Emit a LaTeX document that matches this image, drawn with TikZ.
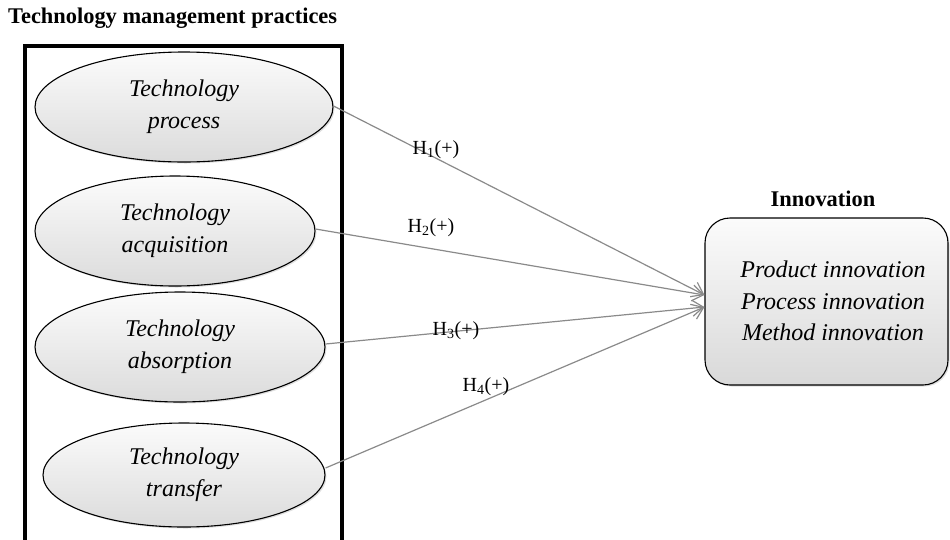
\documentclass[tikz,border=0pt]{standalone}
\usepackage{fontspec}
\setmainfont{Liberation Serif}
\usetikzlibrary{arrows.meta,shadows,shapes.geometric}
\definecolor{arrowgray}{HTML}{8A8A8A}
\tikzset{
  ell/.style={ellipse, draw=black, line width=1.1pt, inner sep=0pt, align=center,
    top color=gray!3, bottom color=gray!28,
    drop shadow={opacity=0.25, shadow xshift=1.5pt, shadow yshift=-1.5pt},
    font=\fontsize{24}{32}\selectfont\itshape},
  hyp/.style={draw=arrowgray, line width=1.2pt, -{Straight Barb[length=11pt,width=16pt,line width=1.2pt]}},
  hlab/.style={inner sep=0pt, font=\fontsize{20}{24}\selectfont},
  heading/.style={inner sep=0pt, font=\fontsize{22.4}{26}\selectfont\bfseries}
}
\begin{document}
\begin{tikzpicture}[x=1pt,y=-1pt]
\useasboundingbox (0,0) rectangle (950,539);
\begin{scope}
\clip (0,0) rectangle (950,539);
\node[heading, anchor=west] (title) at (8,18) {Technology management practices};
\node[draw=black, line width=3.8pt, minimum width=317pt, minimum height=530pt, anchor=north west, inner sep=0pt] (frame) at (23,44) {};
\node[ell, minimum width=298pt, minimum height=110pt] (e1) at (184,107) {Technology\\process};
\node[ell, minimum width=280pt, minimum height=110pt] (e2) at (175,231) {Technology\\acquisition};
\node[ell, minimum width=290pt, minimum height=110pt] (e3) at (180,347) {Technology\\absorption};
\node[ell, minimum width=282pt, minimum height=104pt] (e4) at (184,475) {Technology\\transfer};
\node[heading] (innovhead) at (823,199) {Innovation};
\node[draw=black, line width=1.1pt, rounded corners=25pt, minimum width=243pt, minimum height=167pt, inner sep=0pt,
  top color=gray!3, bottom color=gray!30,
  drop shadow={opacity=0.25, shadow xshift=1.5pt, shadow yshift=-1.5pt}] (innov) at (826.5,301.5) {};
\node[align=center, inner sep=0pt, font=\fontsize{24}{31.5}\selectfont\itshape] (innovtext) at (833,301)
  {Product innovation\\Process innovation\\Method innovation};
\coordinate (tipA) at ([yshift=6.5pt]innov.west);
\coordinate (tipB) at ([yshift=-5.5pt]innov.west);
\draw[hyp] ([yshift=1pt]e1.east) -- (tipA);
\draw[hyp] ([yshift=2pt]e2.east) -- (tipA);
\draw[hyp] ([yshift=3pt]e3.east) -- (tipB);
\draw[hyp] ([yshift=7pt]e4.east) -- (tipB);
\node[hlab] (h1) at (436,150) {H\textsubscript{1}(+)};
\node[hlab] (h2) at (431,228) {H\textsubscript{2}(+)};
\node[hlab] (h3) at (456,331) {H\textsubscript{3}(+)};
\node[hlab] (h4) at (486,387) {H\textsubscript{4}(+)};
\end{scope}
\end{tikzpicture}
\end{document}
